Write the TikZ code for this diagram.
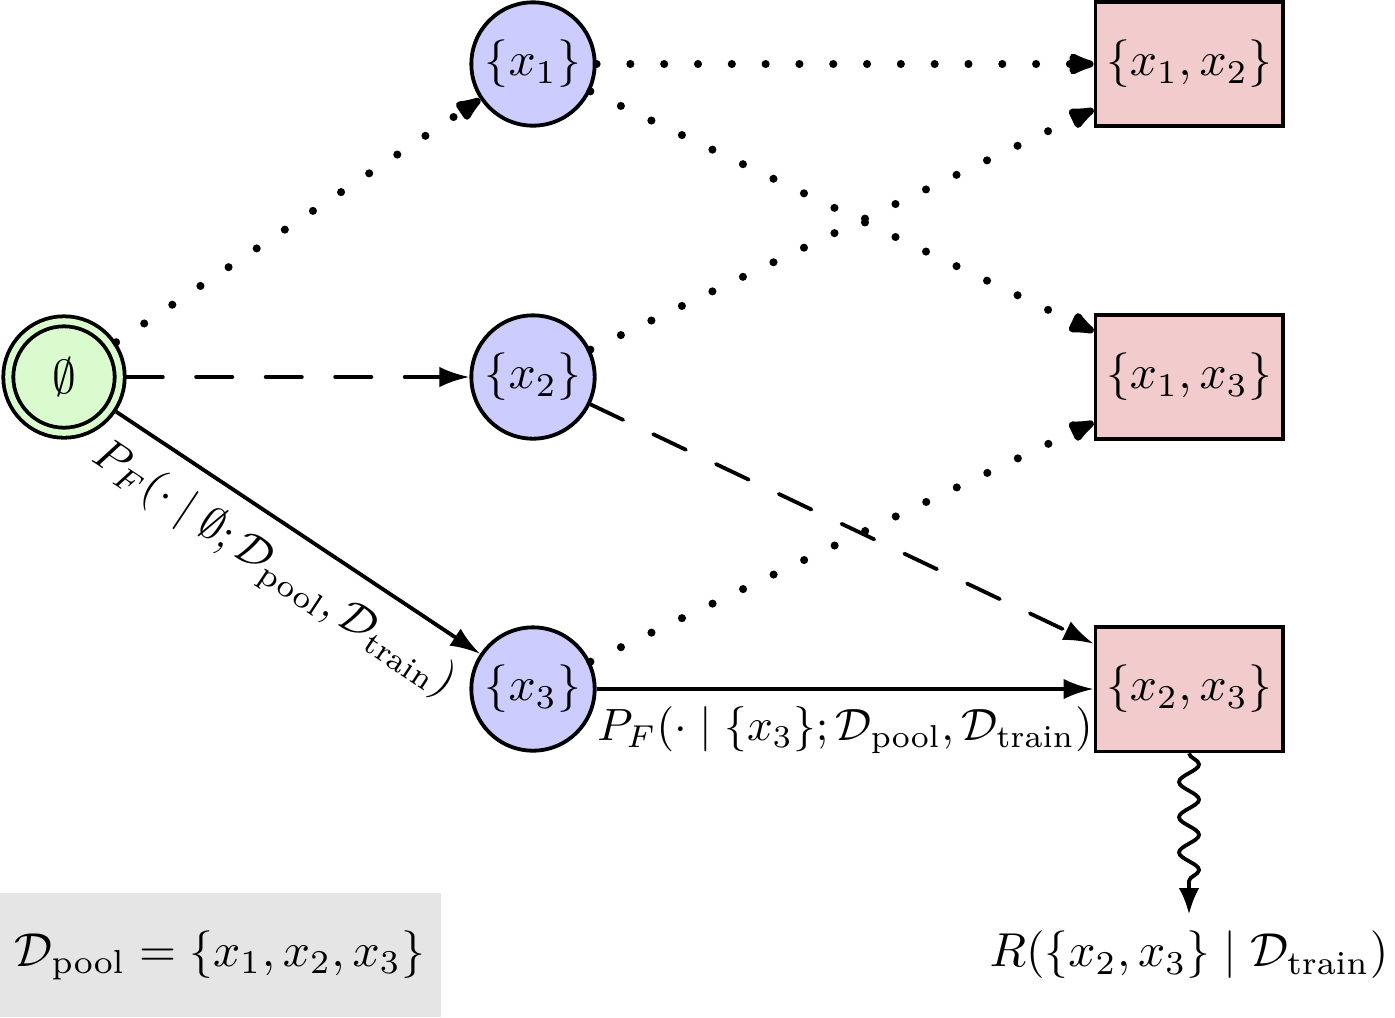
\documentclass[tikz,border=0pt]{standalone}
\usepackage{amsmath}
\usepackage{amssymb}
\usepackage{xcolor}
\usepackage{tikz}
\usetikzlibrary{arrows.meta}
\usetikzlibrary{decorations.pathmorphing}

\definecolor{emptygreen}{RGB}{218,251,206}
\definecolor{setblue}{RGB}{204,204,255}
\definecolor{setred}{RGB}{242,204,204}

\tikzset{
  setnode/.style={circle,draw,thick,fill=setblue,minimum size=25.9pt,inner sep=0pt},
  startnode/.style={setnode,fill=emptygreen,double=emptygreen,double distance=1.3pt,minimum size=23.4pt,outer sep=1.45pt},
  endnode/.style={rectangle,draw,thick,fill=setred,minimum width=39.3pt,minimum height=26.2pt,inner sep=0pt},
  solidedge/.style={thick,-{Latex[length=6.3pt,width=4.3pt]}},
  dashedge/.style={solidedge,line cap=round,dash pattern=on 7.6pt off 7pt},
  dotedge/.style={line width=1.7pt,line cap=round,dash pattern=on 0pt off 7.1pt,-{Latex[round,length=7.4pt,width=5.4pt]}},
}
\newcommand{\edgetext}[1]{\scalebox{0.95}{$#1$}}

\begin{document}
\begin{tikzpicture}[x=0.21pt,y=-0.21pt]
\useasboundingbox (0,0) rectangle (1395,1017);

% states
\node[startnode] (empty) at (64,377) {$\emptyset$};
\node[setnode] (x1) at (533,64) {$\{x_1\}$};
\node[setnode] (x2) at (533,377) {$\{x_2\}$};
\node[setnode] (x3) at (533,689) {$\{x_3\}$};
\node[endnode] (s12) at (1189,64) {$\{x_1,x_2\}$};
\node[endnode] (s13) at (1189,377) {$\{x_1,x_3\}$};
\node[endnode] (s23) at (1189,689) {$\{x_2,x_3\}$};
\node (reward) at (1189,955) {$R(\{x_2,x_3\}\mid\mathcal{D}_{\text{train}})$};
\node[fill=gray!20,minimum width=92.4pt,minimum height=26pt] (pool) at (220,955) {$\mathcal{D}_{\text{pool}}=\{x_1,x_2,x_3\}$};

% transitions
\draw[dotedge] (empty) -- (x1);
\draw[dashedge] (empty) -- (x2);
\draw[solidedge] (empty) -- node[below,sloped,pos=0.5,inner sep=4pt] {\edgetext{P_F(\cdot\mid\emptyset;\mathcal{D}_{\text{pool}},\mathcal{D}_{\text{train}})}} (x3);
\draw[dotedge] (x1) -- (s12);
\draw[dotedge] (x1) -- (s13);
\draw[dotedge] (x2) -- (s12);
\draw[dashedge] (x2) -- (s23);
\draw[dotedge] (x3) -- (s13);
\draw[solidedge] (x3) -- node[below] {\edgetext{P_F(\cdot\mid\{x_3\};\mathcal{D}_{\text{pool}},\mathcal{D}_{\text{train}})}} (s23);

% reward
\draw[thick,-{Latex[length=5.5pt,width=4.3pt]},decorate,decoration={snake,amplitude=2.1pt,segment length=7.4pt,post length=6pt}] (s23) -- (reward);
\end{tikzpicture}
\end{document}
